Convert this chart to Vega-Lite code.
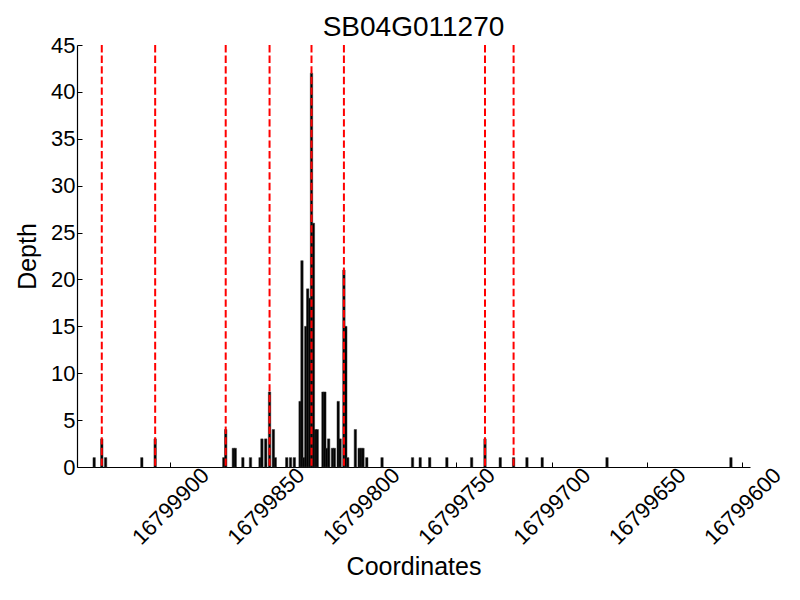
{
  "$schema": "https://vega.github.io/schema/vega-lite/v6.json",
  "autosize": "none",
  "width": 673,
  "height": 422,
  "padding": {"left": 77, "top": 45, "right": 50, "bottom": 133},
  "background": "white",
  "title": {"text": "SB04G011270", "fontSize": 28, "fontWeight": "normal", "font": "Liberation Sans", "color": "black", "offset": -8, "anchor": "middle"},
  "datasets": {
    "bars": [
      {"pos": 16799940, "depth": 1}, {"pos": 16799936, "depth": 3}, {"pos": 16799934, "depth": 1},
      {"pos": 16799915, "depth": 1}, {"pos": 16799908, "depth": 3},
      {"pos": 16799872, "depth": 1}, {"pos": 16799871, "depth": 4}, {"pos": 16799867, "depth": 2}, {"pos": 16799866, "depth": 2},
      {"pos": 16799862, "depth": 1}, {"pos": 16799858, "depth": 1}, {"pos": 16799853, "depth": 1}, {"pos": 16799852, "depth": 3},
      {"pos": 16799850, "depth": 3}, {"pos": 16799848, "depth": 8}, {"pos": 16799846, "depth": 4}, {"pos": 16799845, "depth": 1},
      {"pos": 16799839, "depth": 1}, {"pos": 16799837, "depth": 1}, {"pos": 16799835, "depth": 1},
      {"pos": 16799832, "depth": 7}, {"pos": 16799831, "depth": 22}, {"pos": 16799830, "depth": 1}, {"pos": 16799829, "depth": 15},
      {"pos": 16799828, "depth": 19}, {"pos": 16799827, "depth": 18}, {"pos": 16799826, "depth": 42}, {"pos": 16799825, "depth": 26},
      {"pos": 16799824, "depth": 4}, {"pos": 16799823, "depth": 4}, {"pos": 16799820, "depth": 8}, {"pos": 16799819, "depth": 8},
      {"pos": 16799818, "depth": 2}, {"pos": 16799817, "depth": 3}, {"pos": 16799815, "depth": 2}, {"pos": 16799814, "depth": 2},
      {"pos": 16799812, "depth": 7}, {"pos": 16799811, "depth": 3}, {"pos": 16799809, "depth": 21}, {"pos": 16799808, "depth": 15},
      {"pos": 16799807, "depth": 1}, {"pos": 16799803, "depth": 4}, {"pos": 16799801, "depth": 2}, {"pos": 16799800, "depth": 2},
      {"pos": 16799799, "depth": 2}, {"pos": 16799797, "depth": 1}, {"pos": 16799789, "depth": 1}, {"pos": 16799773, "depth": 1},
      {"pos": 16799769, "depth": 1}, {"pos": 16799764, "depth": 1}, {"pos": 16799755, "depth": 1}, {"pos": 16799742, "depth": 1},
      {"pos": 16799735, "depth": 3}, {"pos": 16799727, "depth": 1}, {"pos": 16799720, "depth": 1}, {"pos": 16799713, "depth": 1},
      {"pos": 16799705, "depth": 1}, {"pos": 16799671, "depth": 1}, {"pos": 16799606, "depth": 1}
    ],
    "junctions": [
      {"pos": 16799936}, {"pos": 16799908}, {"pos": 16799871}, {"pos": 16799848},
      {"pos": 16799826}, {"pos": 16799809}, {"pos": 16799735}, {"pos": 16799720}
    ]
  },
  "layer": [
    {
      "data": {"name": "bars"},
      "mark": {"type": "bar", "color": "black", "size": 2.4, "stroke": "#333333", "strokeWidth": 0.5},
      "encoding": {
        "x": {"field": "pos", "type": "quantitative",
          "scale": {"domain": [16799596, 16799949], "reverse": true, "nice": false, "zero": false, "padding": 0},
          "axis": {"title": "Coordinates", "values": [16799900, 16799850, 16799800, 16799750, 16799700, 16799650, 16799600], "format": "d", "labelAngle": -45, "labelAlign": "center", "labelBaseline": "middle", "labelFontSize": 22, "titleFontSize": 25, "titleFontWeight": "normal", "tickSize": -5, "labelPadding": 44, "titlePadding": 6, "grid": false}},
        "y": {"field": "depth", "type": "quantitative",
          "scale": {"domain": [0, 45], "nice": false},
          "axis": {"title": "Depth", "values": [0, 5, 10, 15, 20, 25, 30, 35, 40, 45], "labelFontSize": 22, "titleFontSize": 25, "titleFontWeight": "normal", "tickSize": -5, "labelPadding": 7, "titlePadding": 10, "grid": false}}
      }
    },
    {
      "data": {"name": "junctions"},
      "mark": {"type": "rule", "color": "#ff0000", "strokeWidth": 2, "strokeDash": [7.4, 3.2]},
      "encoding": {
        "x": {"field": "pos", "type": "quantitative"}
      }
    }
  ],
  "config": {
    "view": {"stroke": null},
    "font": "Liberation Sans",
    "axis": {"domainColor": "black", "tickColor": "black", "labelColor": "black", "titleColor": "black", "labelFont": "Liberation Sans", "titleFont": "Liberation Sans", "domainWidth": 1.2}
  }
}
